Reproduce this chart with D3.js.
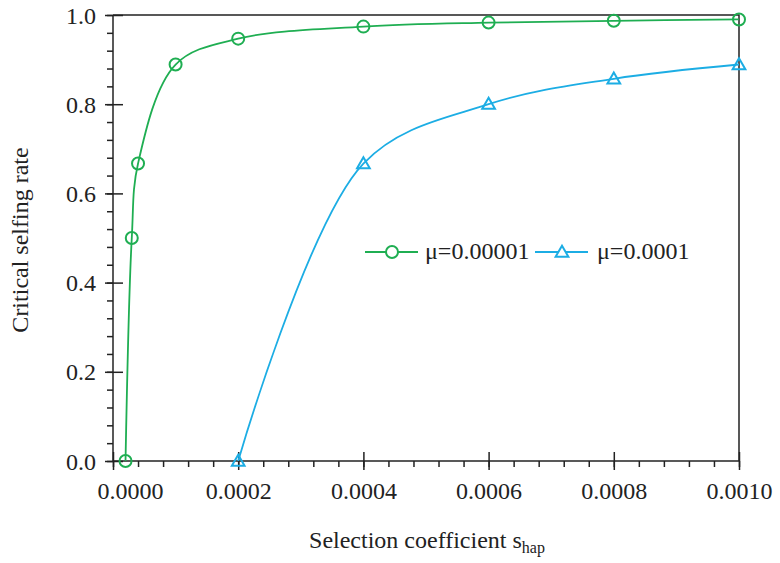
<!DOCTYPE html>
<head>
    <title>Critical selfing rate</title>
    <script src="https://d3js.org/d3.v7.min.js"></script>
    <style>
        body{
            margin: 0;
            background: #fff;
        }
        svg{
            display: block;
        }
        text{
            font-family: "Liberation Serif", "Times New Roman", serif;
            fill: #222;
        }
    </style>
</head>
<body>
    <svg id="chart" width="780" height="563"></svg>
    <script>
        // data
        var sLow = [0.00002, 0.00003, 0.00004, 0.0001, 0.0002, 0.0004, 0.0006, 0.0008, 0.0010];
        var rateLow = [0, 0.5, 0.667, 0.889, 0.947, 0.974, 0.983, 0.987, 0.990];
        var sHigh = [0.0002, 0.0004, 0.0006, 0.0008, 0.0010];
        var rateHigh = [0, 0.667, 0.800, 0.857, 0.889];
        var seriesNames = ["μ=0.00001", "μ=0.0001"];
        var xTicks = [0, 0.0002, 0.0004, 0.0006, 0.0008, 0.0010];
        var yTicks = [0, 0.2, 0.4, 0.6, 0.8, 1.0];

        var green = "#1fae52", blue = "#1cade4";
        var fs = "24px";

        var svg = d3.select("#chart");
        var x = d3.scaleLinear().domain([0, 0.001]).range([113, 739]);
        var y = d3.scaleLinear().domain([0, 1]).range([461, 15]);

        // frame (top and right)
        svg.append("path")
            .attr("d", "M" + x(0) + "," + y(1) + "H" + x(0.001) + "V" + y(0))
            .attr("fill", "none").attr("stroke", "#222").attr("stroke-width", 1.5);

        // minor ticks
        var xMinor = d3.range(0, 26).map(d => d * 0.00004);
        var yMinor = d3.range(0, 26).map(d => d * 0.04);

        svg.append("g").attr("transform", "translate(0," + y(0) + ")")
            .call(d3.axisBottom(x).tickValues(xMinor).tickSize(6).tickFormat(""))
            .call(g => g.select(".domain").remove())
            .selectAll("line").attr("stroke", "#222").attr("stroke-width", 1.5);
        svg.append("g").attr("transform", "translate(" + x(0) + ",0)")
            .call(d3.axisLeft(y).tickValues(yMinor).tickSize(6).tickFormat(""))
            .call(g => g.select(".domain").remove())
            .selectAll("line").attr("stroke", "#222").attr("stroke-width", 1.5);

        // major axes
        var xAxis = svg.append("g").attr("transform", "translate(0," + y(0) + ")")
            .call(d3.axisBottom(x).tickValues(xTicks).tickFormat(d3.format(".4f")));
        xAxis.select(".domain").attr("stroke", "#222").attr("stroke-width", 1.5).attr("d", "M" + x(0) + ",0H" + x(0.001));
        xAxis.selectAll(".tick line").attr("y1", -9).attr("y2", 9).attr("stroke", "#222").attr("stroke-width", 1.5);
        xAxis.selectAll(".tick text")
            .attr("y", 38).attr("dy", 0)
            .attr("x", d => d === 0 ? 17 : 0)
            .style("font-size", fs).style("font-family", "Liberation Serif").attr("fill", "#222");

        var yAxis = svg.append("g").attr("transform", "translate(" + x(0) + ",0)")
            .call(d3.axisLeft(y).tickValues(yTicks).tickFormat(d3.format(".1f")));
        yAxis.select(".domain").attr("stroke", "#222").attr("stroke-width", 1.5).attr("d", "M0," + y(0) + "V" + y(1));
        yAxis.selectAll(".tick line").attr("x1", 10).attr("x2", -8).attr("stroke", "#222").attr("stroke-width", 1.5);
        yAxis.selectAll(".tick text")
            .attr("x", -17).attr("dy", "0.34em")
            .style("font-size", fs).style("font-family", "Liberation Serif").attr("fill", "#222");

        // curves
        var line = d3.line().x(d => x(d[0])).y(d => y(d[1])).curve(d3.curveCatmullRom.alpha(0.5));
        var lowPts = sLow.map((s, i) => [s, rateLow[i]]);
        var highPts = sHigh.map((s, i) => [s, rateHigh[i]]);

        svg.append("path").datum(lowPts).attr("d", line)
            .attr("fill", "none").attr("stroke", green).attr("stroke-width", 1.8);
        svg.append("path").datum(highPts).attr("d", line)
            .attr("fill", "none").attr("stroke", blue).attr("stroke-width", 1.8);

        var tri = d3.symbol().type(d3.symbolTriangle).size(70);

        svg.selectAll(".mLow").data(lowPts).enter().append("circle")
            .attr("cx", d => x(d[0])).attr("cy", d => y(d[1])).attr("r", 6)
            .attr("fill", "none").attr("stroke", green).attr("stroke-width", 2);
        svg.selectAll(".mHigh").data(highPts).enter().append("path")
            .attr("d", tri)
            .attr("transform", d => "translate(" + x(d[0]) + "," + (y(d[1]) + 1) + ")")
            .attr("fill", "none").attr("stroke", blue).attr("stroke-width", 2);

        // legend
        var lg = svg.append("g");
        lg.append("line").attr("x1", 365).attr("x2", 418).attr("y1", 252).attr("y2", 252)
            .attr("stroke", green).attr("stroke-width", 1.8);
        lg.append("circle").attr("cx", 392).attr("cy", 252).attr("r", 6)
            .attr("fill", "#fff").attr("stroke", green).attr("stroke-width", 2);
        lg.append("text").attr("x", 425).attr("y", 259).style("font-size", fs).text(seriesNames[0]);
        lg.append("line").attr("x1", 535).attr("x2", 588).attr("y1", 252).attr("y2", 252)
            .attr("stroke", blue).attr("stroke-width", 1.8);
        lg.append("path").attr("d", tri).attr("transform", "translate(562,253)")
            .attr("fill", "#fff").attr("stroke", blue).attr("stroke-width", 2);
        lg.append("text").attr("x", 597).attr("y", 259).style("font-size", fs).text(seriesNames[1]);

        // axis titles
        svg.append("text")
            .attr("transform", "translate(28,240) rotate(-90)")
            .attr("text-anchor", "middle")
            .style("font-size", fs)
            .text("Critical selfing rate");

        var xt = svg.append("text")
            .attr("x", 427).attr("y", 548)
            .attr("text-anchor", "middle")
            .style("font-size", fs);
        xt.append("tspan").text("Selection coefficient s");
        xt.append("tspan").attr("dy", 5).style("font-size", "16px").text("hap");
    </script>
</body>
</html>
